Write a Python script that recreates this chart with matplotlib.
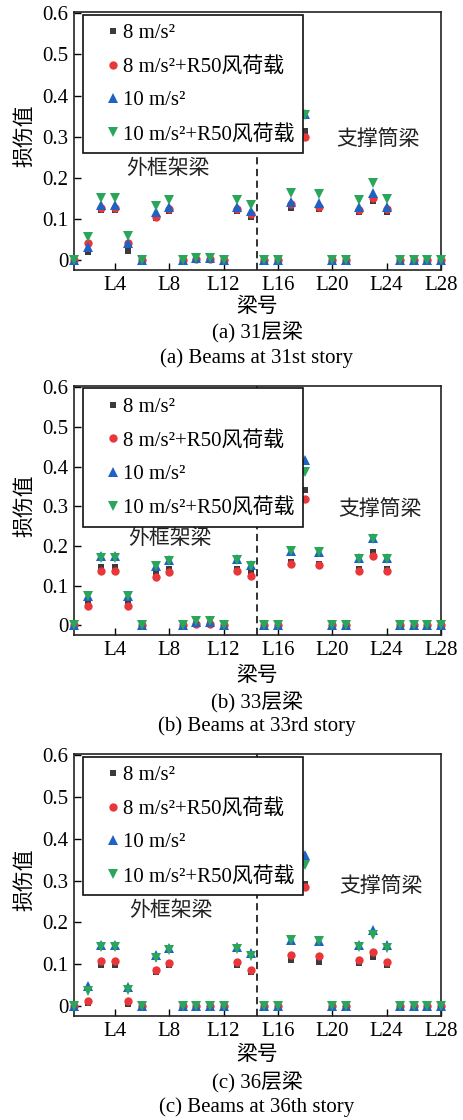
import matplotlib
matplotlib.use('Agg')
import matplotlib.pyplot as plt
import numpy as np

plt.rcParams['font.family'] = ['Liberation Serif', 'Noto Sans CJK SC']

beams = np.arange(1, 29)
xtick_pos = [4, 8, 12, 16, 20, 24, 28]
xtick_labels = ['L4', 'L8', 'L12', 'L16', 'L20', 'L24', 'L28']
ytick_pos = [0, 0.1, 0.2, 0.3, 0.4, 0.5, 0.6]
ytick_labels = ['0', '0.1', '0.2', '0.3', '0.4', '0.5', '0.6']

series_labels = ['8 m/s²', '8 m/s²+R50风荷载', '10 m/s²', '10 m/s²+R50风荷载']

# (a) 31st story
a_8 = [0, 0.019, 0.122, 0.122, 0.022, 0, 0.102, 0.120, 0, 0.002, 0.002, 0, 0.120, 0.106,
       0, 0, 0.126, 0.313, 0.124, 0, 0, 0.116, 0.144, 0.118, 0, 0, 0, 0]
a_8w = [0, 0.041, 0.126, 0.126, 0.042, 0, 0.106, 0.124, 0, 0.003, 0.003, 0, 0.124, 0.111,
        0, 0, 0.137, 0.300, 0.130, 0, 0, 0.122, 0.150, 0.124, 0, 0, 0, 0]
a_10 = [0, 0.033, 0.134, 0.134, 0.042, 0, 0.116, 0.130, 0, 0.004, 0.004, 0, 0.130, 0.119,
        0, 0, 0.141, 0.355, 0.140, 0, 0, 0.130, 0.163, 0.130, 0, 0, 0, 0]
a_10w = [0, 0.057, 0.150, 0.150, 0.059, 0, 0.132, 0.145, 0, 0.006, 0.005, 0, 0.145, 0.134,
         0, 0, 0.163, 0.352, 0.160, 0, 0, 0.146, 0.187, 0.148, 0, 0, 0, 0]

# (b) 33rd story
b_8 = [0, 0.061, 0.148, 0.148, 0.061, 0, 0.132, 0.142, 0, 0.003, 0.003, 0, 0.142, 0.132,
       0, 0, 0.159, 0.340, 0.155, 0, 0, 0.142, 0.186, 0.142, 0, 0, 0, 0]
b_8w = [0, 0.049, 0.137, 0.137, 0.049, 0, 0.123, 0.134, 0, 0.003, 0.003, 0, 0.136, 0.125,
        0, 0, 0.156, 0.318, 0.152, 0, 0, 0.138, 0.174, 0.138, 0, 0, 0, 0]
b_10 = [0, 0.075, 0.174, 0.174, 0.075, 0, 0.151, 0.165, 0, 0.008, 0.008, 0, 0.167, 0.153,
        0, 0, 0.188, 0.417, 0.186, 0, 0, 0.169, 0.220, 0.169, 0, 0, 0, 0]
b_10w = [0, 0.075, 0.171, 0.171, 0.075, 0, 0.149, 0.163, 0, 0.010, 0.010, 0, 0.165, 0.151,
         0, 0, 0.187, 0.386, 0.185, 0, 0, 0.168, 0.217, 0.168, 0, 0, 0, 0]

# (c) 36th story
c_8 = [0, 0.006, 0.099, 0.099, 0.004, 0, 0.081, 0.097, 0, 0, 0, 0, 0.098, 0.081,
       0, 0, 0.109, 0.293, 0.106, 0, 0, 0.102, 0.118, 0.099, 0, 0, 0, 0]
c_8w = [0, 0.012, 0.107, 0.107, 0.012, 0, 0.087, 0.104, 0, 0, 0, 0, 0.105, 0.087,
        0, 0, 0.123, 0.285, 0.119, 0, 0, 0.109, 0.129, 0.105, 0, 0, 0, 0]
c_10 = [0, 0.047, 0.146, 0.146, 0.046, 0, 0.123, 0.139, 0, 0, 0, 0, 0.141, 0.127,
        0, 0, 0.159, 0.362, 0.155, 0, 0, 0.145, 0.183, 0.145, 0, 0, 0, 0]
c_10w = [0, 0.037, 0.142, 0.142, 0.038, 0, 0.115, 0.134, 0, 0, 0, 0, 0.136, 0.119,
         0, 0, 0.157, 0.338, 0.155, 0, 0, 0.141, 0.171, 0.139, 0, 0, 0, 0]

captions_cn = ['(a) 31层梁', '(b) 33层梁', '(c) 36层梁']
captions_en = ['(a) Beams at 31st story', '(b) Beams at 33rd story', '(c) Beams at 36th story']
# label positions (data coords) for the two beam groups
frame_lab = [(7.9, 0.222), (8.05, 0.216), (8.1, 0.226)]
core_lab = [(23.4, 0.293), (23.5, 0.291), (23.6, 0.285)]
all_series = [[a_8, a_8w, a_10, a_10w], [b_8, b_8w, b_10, b_10w], [c_8, c_8w, c_10, c_10w]]

markers = ['s', 'o', '^', 'v']
colors = ['#3b3b3b', '#e8363a', '#1f62c4', '#2aa65a']
msizes = [5.0, 6.0, 6.5, 6.5]

W, H = 464, 1120
fig = plt.figure(figsize=(W / 100, H / 100), dpi=100)

# axes boxes in pixels: left, right, top, bottom
boxes = [(74, 441, 12, 270), (74, 441, 386, 635), (74, 441, 754, 1016)]
# y positions of text lines in pixels: xlabel, caption cn, caption en
text_y = [(307, 332, 358), (676, 702, 726), (1055, 1082, 1107)]

fs = 15
for i, series in enumerate(all_series):
    l, r, t, b = boxes[i]
    yl, y1, y2 = text_y[i]
    ax = fig.add_axes([l / W, 1 - b / H, (r - l) / W, (b - t) / H])
    for vals, lab, m, c, ms in zip(series, series_labels, markers, colors, msizes):
        ax.plot(beams, vals, linestyle='none', marker=m, color=c, markersize=ms,
                markeredgewidth=0, label=lab, clip_on=False, zorder=3)
    ax.axvline(14.5, color='#222222', linestyle=(0, (4, 2.5)), linewidth=1.3, zorder=1)
    ax.set_xlim(1, 28)
    ax.set_ylim(-0.024, 0.603)
    ax.set_xticks(xtick_pos)
    ax.set_xticklabels(xtick_labels, fontsize=fs)
    ax.set_yticks(ytick_pos)
    ax.set_yticklabels(ytick_labels, fontsize=fs)
    ax.tick_params(direction='in', length=5, width=1.0, pad=4)
    for s in ax.spines.values():
        s.set_linewidth(1.2)
        s.set_color('#222222')
    ax.text(*frame_lab[i], '外框架梁', fontsize=fs, ha='center', va='center', color='#222222')
    ax.text(*core_lab[i], '支撑筒梁', fontsize=fs, ha='center', va='center', color='#222222')
    leg = ax.legend(loc='upper left', bbox_to_anchor=(0.025, 0.99), fontsize=fs,
                    frameon=True, fancybox=False, handletextpad=-0.5, handlelength=2.0,
                    labelspacing=0.67, borderpad=0.42, borderaxespad=0.0)
    leg.get_frame().set_edgecolor('#111111')
    leg.get_frame().set_linewidth(1.2)
    leg.get_frame().set_alpha(1)
    leg.set_zorder(5)
    fig.text(25 / W, 1 - ((t + b) / 2 - 5) / H, '损伤值', rotation=90, fontsize=fs,
             ha='center', va='center')
    fig.text(257 / W, 1 - yl / H, '梁号', fontsize=fs, ha='center', va='center')
    fig.text(257 / W, 1 - y1 / H, captions_cn[i], fontsize=fs, ha='center', va='center')
    fig.text(257 / W, 1 - y2 / H, captions_en[i], fontsize=fs, ha='center', va='center')

fig.savefig('out.png', dpi=100)
